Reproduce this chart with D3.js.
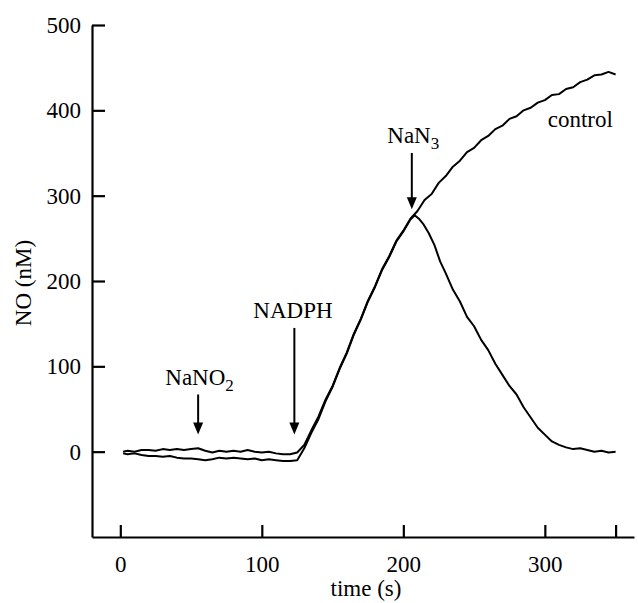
<!DOCTYPE html>
<html lang="en">
<head>
<meta charset="UTF-8">
<title>NO trace</title>
<script src="https://d3js.org/d3.v7.min.js"></script>
<style>
  body { margin: 0; background: #fff; }
  svg text { font-family: "Liberation Serif", "Tinos", "Times New Roman", "DejaVu Serif", serif; fill: #000; }
</style>
</head>
<body>
<svg id="canvas"></svg>
<script>
// time (s) and NO (nM)
let tControl = [2,5,10,15,20,25,30,35,40,45,50,55,60,65,70,75,80,85,90,95,100,105,110,115,120,125,
  130,135,140,145,150,155,160,165,170,175,180,185,190,195,200,205,210,215,220,225,230,235,240,245,
  250,255,260,265,270,275,280,285,290,295,300,305,310,315,320,325,330,335,340,345,350]
let vControl = [0,1,0,2,2,1,3,2,3,2,3,4,1,-1,1,0,1,0,2,0,-1,0,-2,-3,-3,-1,
  8,25,41,61,77,98,116,138,156,177,194,214,229,247,259,273,282,295,302,315,323,334,341,351,
  356,365,370,378,382,390,393,400,403,409,412,418,419,425,427,433,436,441,442,445,442]

let tAzide = [2,5,10,15,20,25,30,35,40,45,50,55,60,65,70,75,80,85,90,95,100,105,110,115,120,125,
  130,135,140,145,150,155,160,165,170,175,180,185,190,195,200,205,208,211,214,218,222,226,230,235,
  240,245,250,255,260,265,270,275,280,285,290,295,300,305,310,315,320,325,330,335,340,345,350]
let vAzide = [-2,-3,-2,-4,-5,-5,-6,-5,-7,-8,-8,-9,-10,-9,-7,-8,-7,-8,-9,-8,-10,-9,-10,-11,-11,-10,
  4,22,38,59,76,97,115,137,155,176,193,213,228,246,258,272,277,273,267,256,242,223,209,190,
  176,158,147,131,119,103,90,77,67,52,40,28,20,12,8,5,3,4,2,0,1,-1,0]

let xTicks = [0, 100, 200, 300, 350]
let xLabels = ["0", "100", "200", "300", ""]
let yTicks = [0, 100, 200, 300, 400, 500]

let width = 638
let height = 603
let serif = "'Liberation Serif', 'Tinos', 'Times New Roman', 'DejaVu Serif', serif"

let svg = d3.select("#canvas")
  .attr("width", width)
  .attr("height", height)

let xScale = d3.scaleLinear().domain([-20, 363]).range([92, 634])
let yScale = d3.scaleLinear().domain([-100, 500]).range([537, 25])

let drawAxes = () => {
  let xAxis = d3.axisBottom(xScale)
    .tickValues(xTicks)
    .tickFormat((d, i) => xLabels[i])
    .tickSizeInner(-12)
    .tickSizeOuter(0)
    .tickPadding(19)
  svg.append("g")
    .attr("transform", "translate(0," + yScale(-100) + ")")
    .call(xAxis)

  let yAxis = d3.axisLeft(yScale)
    .tickValues(yTicks)
    .tickSizeInner(-13)
    .tickSizeOuter(0)
    .tickPadding(11)
  svg.append("g")
    .attr("transform", "translate(" + xScale(-20) + ",0)")
    .call(yAxis)

  svg.selectAll("g").attr("font-family", serif)
  svg.selectAll(".domain, .tick line")
    .attr("stroke", "#000")
    .attr("stroke-width", 2.2)
  svg.selectAll(".tick text")
    .style("font-size", "23px")
    .style("font-family", serif)

  svg.append("text")
    .attr("x", (xScale(-20) + xScale(363)) / 2 + 3)
    .attr("y", 596)
    .attr("text-anchor", "middle")
    .style("font-size", "23px")
    .style("font-family", serif)
    .text("time (s)")

  svg.append("text")
    .attr("transform", "translate(31," + 283 + ") rotate(-90)")
    .attr("text-anchor", "middle")
    .style("font-size", "23px")
    .style("font-family", serif)
    .text("NO (nM)")
}

let drawLines = () => {
  let line = d3.line()
    .x((d) => xScale(d[0]))
    .y((d) => yScale(d[1]))
  let series = [d3.zip(tControl, vControl), d3.zip(tAzide, vAzide)]
  svg.selectAll(".trace")
    .data(series)
    .enter()
    .append("path")
    .attr("class", "trace")
    .attr("d", line)
    .attr("fill", "none")
    .attr("stroke", "#000")
    .attr("stroke-width", 2)
    .attr("stroke-linejoin", "round")
}

let arrow = (t, v1, v2) => {
  let x = xScale(t)
  let y1 = yScale(v1)
  let y2 = yScale(v2)
  svg.append("line")
    .attr("x1", x).attr("x2", x)
    .attr("y1", y1).attr("y2", y2 - 10)
    .attr("stroke", "#000")
    .attr("stroke-width", 2)
  svg.append("path")
    .attr("d", "M" + (x - 5) + "," + (y2 - 12) + "L" + (x + 5) + "," + (y2 - 12) + "L" + x + "," + y2 + "Z")
    .attr("fill", "#000")
}

let label = (t, v, main, sub, anchor) => {
  let txt = svg.append("text")
    .attr("x", xScale(t))
    .attr("y", yScale(v))
    .attr("text-anchor", anchor)
    .style("font-size", "23px")
    .style("font-family", serif)
  txt.append("tspan").text(main)
  if (sub) {
    txt.append("tspan")
      .attr("dy", 6)
      .style("font-size", "17px")
      .text(sub)
  }
}

drawAxes()
drawLines()

arrow(55, 67, 20)
arrow(123, 145, 20)
arrow(206, 350, 284)

label(56, 78, "NaNO", "2", "middle")
label(122, 157, "NADPH", null, "middle")
label(207, 362, "NaN", "3", "middle")
label(302, 380, "control", null, "start")
</script>
</body>
</html>
